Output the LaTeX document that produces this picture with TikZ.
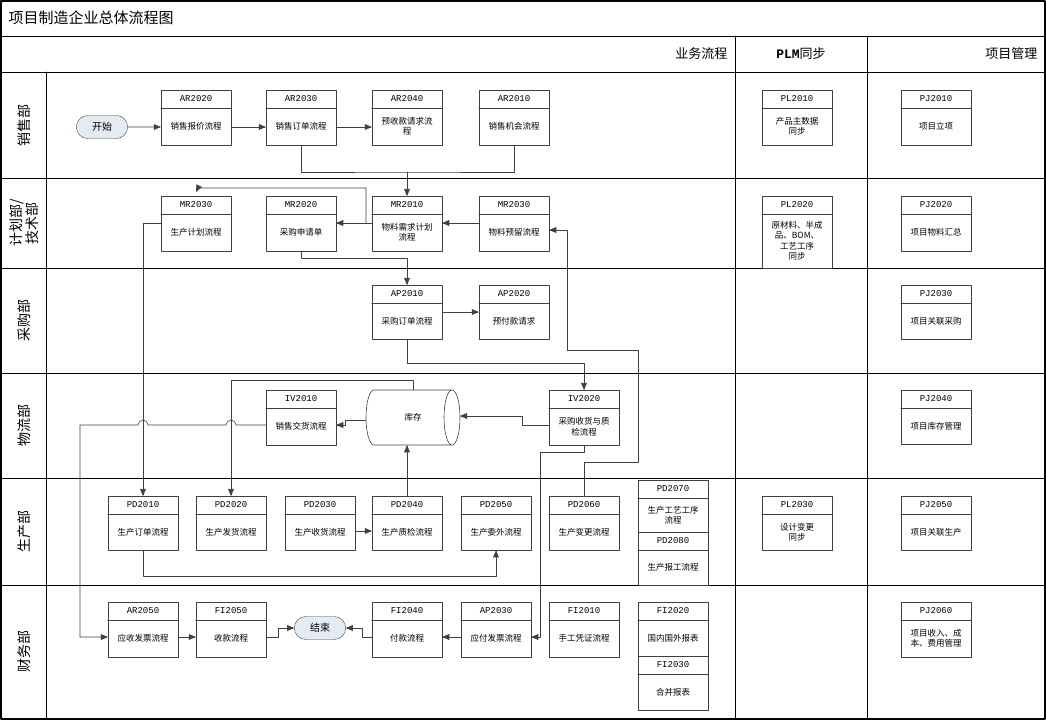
\documentclass[tikz,border=0pt]{standalone}
\usepackage{fontspec}
\setmainfont{Noto Sans CJK SC}
\newfontfamily\codefont{Liberation Mono}
\usetikzlibrary{arrows,shapes.misc}
\definecolor{lnclr}{rgb}{0.25,0.25,0.25}
\definecolor{tmclr}{rgb}{0.9,0.92,0.96}
\tikzset{
  pbox/.style={draw=lnclr,minimum width=70pt,inner sep=0pt,anchor=north},
  ptxt/.style={font=\fontsize{8.5}{10.5}\selectfont,align=center,inner sep=0pt},
  pcode/.style={font=\codefont\fontsize{9}{10}\selectfont,inner sep=0pt},
  term/.style={draw=lnclr,rounded rectangle,fill=tmclr,minimum width=58pt,minimum height=23pt,font=\fontsize{10}{12}\selectfont},
  lane/.style={rotate=90,font=\fontsize{14}{16}\selectfont,align=center},
  flow/.style={draw=lnclr,line width=0.6pt,->},
}
% name, x, top, height, code, text
\newcommand\procbox[6]{%
  \node[pbox,minimum height=#4pt] (#1) at (#2,#3) {};
  \draw[lnclr,line width=0.6pt] ([yshift=-18pt]#1.north west) -- ([yshift=-18pt]#1.north east);
  \node[pcode] at ([yshift=-9pt]#1.north) {#5};
  \node[ptxt] at ([yshift=-18pt-(#4pt-18pt)/2]#1.north) {#6};
}
\begin{document}
\begin{tikzpicture}[line cap=round,line join=round,>=triangle 45,x=1pt,y=-1pt]
\useasboundingbox (0,0) rectangle (1046,720);
% frame and lanes
\draw[line width=1.2pt] (1,1) rectangle (1045,719);
\draw[line width=0.8pt] (1,36) -- (1045,36);
\foreach \yy in {72,178,268,373,478,585}
  \draw[line width=0.8pt] (1,\yy) -- (1045,\yy);
\draw[line width=0.8pt] (46,72) -- (46,719);
\draw[line width=0.8pt] (735,36) -- (735,719);
\draw[line width=0.8pt] (867,36) -- (867,719);
\node[anchor=west,font=\fontsize{15}{17}\selectfont] (title) at (5,18) {项目制造企业总体流程图};
\node[anchor=east,font=\fontsize{13}{15}\selectfont] (hbiz) at (731,54) {业务流程};
\node[font=\fontsize{13}{15}\selectfont] (hplm) at (801,54) {{\codefont\bfseries PLM}同步};
\node[anchor=east,font=\fontsize{13}{15}\selectfont] (hprj) at (1041,54) {项目管理};
\node[lane] (l1) at (24,125) {销售部};
\node[lane] (l2) at (24,223) {计划部/\\技术部};
\node[lane] (l3) at (24,320) {采购部};
\node[lane] (l4) at (24,425) {物流部};
\node[lane] (l5) at (24,531) {生产部};
\node[lane] (l6) at (24,651) {财务部};
% sales
\node[term] (start) at (102,127) {开始};
\procbox{ar2020}{196}{90}{55}{AR2020}{销售报价流程}
\procbox{ar2030}{301}{90}{55}{AR2030}{销售订单流程}
\procbox{ar2040}{407}{90}{55}{AR2040}{预收款请求流\\程}
\procbox{ar2010}{514}{90}{55}{AR2010}{销售机会流程}
\procbox{pl2010}{797}{90}{55}{PL2010}{产品主数据\\同步}
\procbox{pj2010}{936}{90}{55}{PJ2010}{项目立项}
% planning
\procbox{mr2030a}{196}{196}{55}{MR2030}{生产计划流程}
\procbox{mr2020}{301}{196}{55}{MR2020}{采购申请单}
\procbox{mr2010}{407}{196}{55}{MR2010}{物料需求计划\\流程}
\procbox{mr2030b}{514}{196}{55}{MR2030}{物料预留流程}
\procbox{pl2020}{797}{196}{72}{PL2020}{原材料、半成\\品、BOM、\\工艺工序\\同步}
\procbox{pj2020}{936}{196}{55}{PJ2020}{项目物料汇总}
% purchase
\procbox{ap2010}{407}{285}{54}{AP2010}{采购订单流程}
\procbox{ap2020}{514}{285}{54}{AP2020}{预付款请求}
\procbox{pj2030}{936}{285}{54}{PJ2030}{项目关联采购}
% logistics
\procbox{iv2010}{301}{390}{55}{IV2010}{销售交货流程}
\node[minimum width=94pt,minimum height=55pt,inner sep=0pt,ptxt] (stock) at (413,417.5) {库存};
\draw[lnclr,line width=0.6pt] (374,390) -- (452,390) (374,445) -- (452,445)
  (374,390) arc[start angle=-90,end angle=-270,x radius=8,y radius=27.5]
  (452,417.5) ellipse[x radius=8,y radius=27.5];
\procbox{iv2020}{584}{390}{55}{IV2020}{采购收货与质\\检流程}
\procbox{pj2040}{936}{390}{54}{PJ2040}{项目库存管理}
% production
\procbox{pd2010}{143}{496}{54}{PD2010}{生产订单流程}
\procbox{pd2020}{231}{496}{54}{PD2020}{生产发货流程}
\procbox{pd2030}{320}{496}{54}{PD2030}{生产收货流程}
\procbox{pd2040}{407}{496}{54}{PD2040}{生产质检流程}
\procbox{pd2050}{496}{496}{54}{PD2050}{生产委外流程}
\procbox{pd2060}{584}{496}{54}{PD2060}{生产变更流程}
\procbox{pd2070}{673}{480}{52}{PD2070}{生产工艺工序\\流程}
\procbox{pd2080}{673}{532}{53}{PD2080}{生产报工流程}
\procbox{pl2030}{797}{496}{54}{PL2030}{设计变更\\同步}
\procbox{pj2050}{936}{496}{54}{PJ2050}{项目关联生产}
% finance
\procbox{ar2050}{143}{602}{55}{AR2050}{应收发票流程}
\procbox{fi2050}{231}{602}{55}{FI2050}{收款流程}
\node[term] (stop) at (320,628) {结束};
\procbox{fi2040}{407}{602}{55}{FI2040}{付款流程}
\procbox{ap2030}{496}{602}{55}{AP2030}{应付发票流程}
\procbox{fi2010}{584}{602}{55}{FI2010}{手工凭证流程}
\procbox{fi2020}{673}{602}{54}{FI2020}{国内国外报表}
\procbox{fi2030}{673}{656}{54}{FI2030}{合并报表}
\procbox{pj2060}{936}{602}{55}{PJ2060}{项目收入、成\\本、费用管理}
% connectors
\draw[flow] (start) -- (ar2020.west |- start);
\draw[flow] (ar2020.east |- start) -- (ar2030.west |- start);
\draw[flow] (ar2030.east |- start) -- (ar2040.west |- start);
\draw[flow,-] (ar2030.south) |- (407,172) -| (ar2010.south);
\draw[flow] (407,172) -- (mr2010.north);
\draw[flow] (mr2010.west |- 0,223) -- (mr2020.east |- 0,223);
\draw[flow] (366,223) |- (198,188) -- (196,192);
\draw[flow] (mr2030b.west |- 0,223) -- (mr2010.east |- 0,223);
\draw[flow] (pd2060.north) |- (638,462) |- (567,350) |- (mr2030b.east |- 0,230);
\draw[flow] (mr2020.south) |- (407,258) -- (ap2010.north);
\draw[flow] (ap2010.east |- 0,312) -- (ap2020.west |- 0,312);
\draw[flow] (ap2010.south) |- (584,363) -- (iv2020.north);
\draw[flow] (iv2020.west |- 0,425) -| (522,416) -- (460,416);
\draw[flow] (366,420) -| (345,425) -- (iv2010.east |- 0,425);
\draw[flow] (stock.north) |- (231,380) -- (pd2020.north);
\draw[flow] (iv2010.west |- 0,425) -- (236,425) arc (0:-180:5) -- (148,425) arc (0:-180:5) -- (80,425) |- (ar2050.west |- 0,637);
\draw[flow] (mr2030a.west |- 0,223) -| (pd2010.north);
\draw[flow] (pd2040.north) -- (pd2040.north |- stock.south);
\draw[flow] (pd2030.east |- 0,531) -- (pd2040.west |- 0,531);
\draw[flow] (pd2010.south) |- (496,576) -- (pd2050.south);
\draw[flow] (iv2020.south) |- (540,452) |- (ap2030.east |- 0,637);
\draw[flow] (ap2030.west |- 0,637) -- (fi2040.east |- 0,637);
\draw[flow] (fi2040.west |- 0,637) -| (362,628) -- (stop.east);
\draw[flow] (ar2050.east |- 0,637) -- (fi2050.west |- 0,637);
\draw[flow] (fi2050.east |- 0,637) -| (278,628) -- (stop.west);
\end{tikzpicture}
\end{document}
